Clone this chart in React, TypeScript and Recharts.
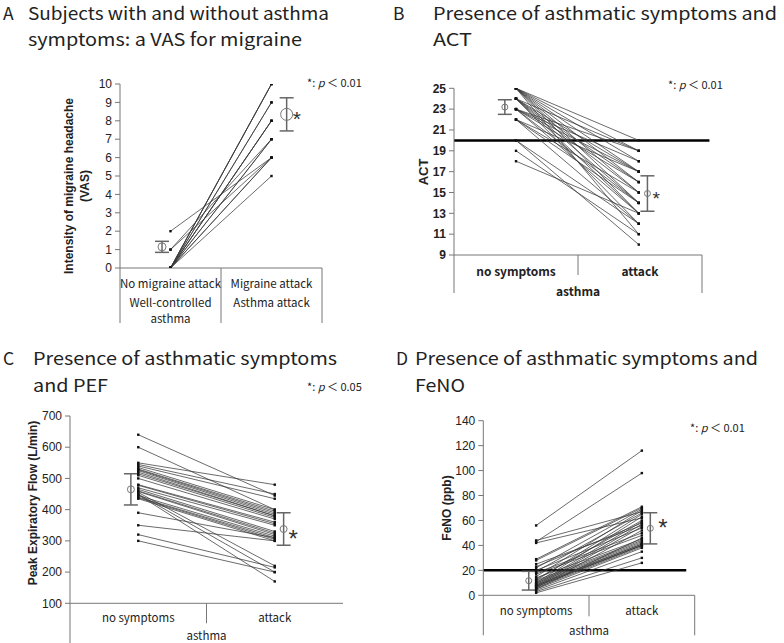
import React from "react";
import {
  ComposedChart,
  Scatter,
  XAxis,
  YAxis,
  ErrorBar,
  ReferenceLine,
} from "recharts";

const W = 784;
const H = 643;
const FONT_JP = '"Noto Sans CJK JP", "Noto Sans", sans-serif';
const FONT_AR = '"Liberation Sans", Arial, sans-serif';

// A: VAS for migraine
const A_ROWS = [
  ["No migraine attack", "Well-controlled", "asthma"],
  ["Migraine attack", "Asthma attack"],
];
const A_TICKS = [0, 1, 2, 3, 4, 5, 6, 7, 8, 9, 10];
const A_BEFORE = [2, 1, 1, 0, 0, 0, 0, 0, 0, 0, 0, 0, 0, 0, 0, 0];
const A_AFTER = [6, 6, 7, 10, 10, 10, 9, 9, 8, 8, 8, 7, 7, 6, 6, 5];
const A_MEAN = [1.15, 8.35];
const A_SD = [0.3, 0.9];

// B: ACT
const B_ROWS = [["no symptoms"], ["attack"]];
const B_GROUP = "asthma";
const B_TICKS = [9, 11, 13, 15, 17, 19, 21, 23, 25];
const B_BEFORE = [25, 25, 25, 25, 25, 25, 25, 25, 24, 24, 24, 24, 24, 24, 23, 23, 23, 23, 23, 22, 22, 22, 22, 20, 20, 19, 18, 23, 24, 25];
const B_AFTER = [20, 19, 17, 16, 15, 14, 13, 11, 19, 17, 16, 15, 13, 12, 18, 17, 16, 14, 13, 17, 15, 14, 12, 12, 10, 11, 13, 19, 14, 18];
const B_MEAN = [23.2, 14.9];
const B_SD = [0.7, 1.7];
const B_CUTOFF = 20;

// C: PEF
const C_ROWS = [["no symptoms"], ["attack"]];
const C_GROUP = "asthma";
const C_TICKS = [100, 200, 300, 400, 500, 600, 700];
const C_BEFORE = [640, 600, 550, 545, 540, 535, 530, 528, 525, 520, 515, 510, 500, 480, 478, 470, 465, 460, 458, 455, 450, 448, 445, 440, 438, 435, 390, 350, 320, 300];
const C_AFTER = [445, 400, 480, 450, 435, 400, 395, 390, 385, 380, 380, 375, 370, 360, 355, 350, 330, 325, 320, 220, 200, 170, 315, 310, 305, 300, 310, 300, 215, 200];
const C_MEAN = [465, 338];
const C_SD = [50, 52];

// D: FeNO
const D_ROWS = [["no symptoms"], ["attack"]];
const D_GROUP = "asthma";
const D_TICKS = [0, 20, 40, 60, 80, 100, 120, 140];
const D_BEFORE = [56, 44, 43, 42, 29, 28, 25, 23, 22, 20, 19, 18, 17, 15, 14, 13, 12, 12, 11, 10, 10, 9, 9, 8, 8, 8, 7, 7, 7, 6, 6, 5, 5, 4, 3, 2];
const D_AFTER = [116, 67, 98, 62, 71, 70, 56, 58, 69, 54, 66, 50, 48, 68, 45, 60, 44, 65, 43, 63, 42, 59, 41, 57, 41, 40, 40, 55, 40, 39, 52, 38, 46, 35, 30, 26];
const D_MEAN = [11.7, 53.7];
const D_SD = [7.5, 12.5];
const D_CUTOFF = 20;

const panels = [
  {
    id: "A",
    before: A_BEFORE, after: A_AFTER, mean: A_MEAN, sd: A_SD,
    ticks: A_TICKS, domain: [0, 10],
    plot: { left: 120, right: 322, top: 84, bottom: 268 },
    ptX: [0.5, 1.5], meanX: [0.416, 1.65], meanR: [4, 6],
    star: { dx: 6, dy: 12, size: 21 },
    bold: false,
    table: { rows: A_ROWS, group: "", rowDy: [15, 34, 50], groupDy: 0, border: [55, 55, 55], bold: false, size: 11.5 },
  },
  {
    id: "B",
    before: B_BEFORE, after: B_AFTER, mean: B_MEAN, sd: B_SD,
    ticks: B_TICKS, domain: [9, 25],
    plot: { left: 454, right: 702, top: 88.3, bottom: 255 },
    ptX: [0.5, 1.49], meanX: [0.41, 1.56], meanR: [3, 3],
    star: { dx: 5, dy: 11, size: 19 },
    bold: true,
    cutoff: B_CUTOFF, cutEnd: 2.06,
    table: { rows: B_ROWS, group: B_GROUP, rowDy: [15], groupDy: 35, border: [38, 20, 38], bold: true, size: 12 },
  },
  {
    id: "C",
    before: C_BEFORE, after: C_AFTER, mean: C_MEAN, sd: C_SD,
    ticks: C_TICKS, domain: [100, 700],
    plot: { left: 70, right: 343, top: 416, bottom: 603.3 },
    ptX: [0.5, 1.5], meanX: [0.446, 1.565], meanR: [3.5, 3.5],
    star: { dx: 5, dy: 18, size: 24 },
    bold: false,
    table: { rows: C_ROWS, group: C_GROUP, rowDy: [14], groupDy: 32, border: [40, 20, 0], bold: false, size: 11.5 },
  },
  {
    id: "D",
    before: D_BEFORE, after: D_AFTER, mean: D_MEAN, sd: D_SD,
    ticks: D_TICKS, domain: [0, 140],
    plot: { left: 483.3, right: 694.7, top: 420.7, bottom: 595.3 },
    ptX: [0.5, 1.5], meanX: [0.43, 1.58], meanR: [3, 3],
    star: { dx: 8, dy: 8, size: 24 },
    bold: false,
    cutoff: D_CUTOFF, cutEnd: 1.92,
    table: { rows: D_ROWS, group: D_GROUP, rowDy: [15], groupDy: 35, border: [40, 21, 40], bold: false, size: 11.5 },
  },
];

const AXIS = "#777";

function TableTick(props: any) {
  const { x, y, payload, cfg } = props;
  const v = payload.value;
  const weight = cfg.bold ? "bold" : "normal";
  if (v === 0 || v === 1 || v === 2) {
    const len = cfg.border[v];
    return (
      <g>
        {len > 0 && <line x1={x} y1={y} x2={x} y2={y + len} stroke={AXIS} strokeWidth={1} />}
        {v === 1 && cfg.group && (
          <text x={x} y={y + cfg.groupDy} textAnchor="middle" dominantBaseline="central"
            fontFamily={FONT_JP} fontSize={cfg.size} fontWeight={weight} fill="#222">
            {cfg.group}
          </text>
        )}
      </g>
    );
  }
  const rows: string[] = cfg.rows[v < 1 ? 0 : 1];
  return (
    <g>
      {rows.map((r, i) => (
        <text key={i} x={x} y={y + cfg.rowDy[i]} textAnchor="middle" dominantBaseline="central"
          fontFamily={FONT_JP} fontSize={cfg.size} fontWeight={weight} fill="#222">
          {r}
        </text>
      ))}
    </g>
  );
}

const SubjectDot = (p: any) => (
  <rect x={p.cx - 1.2} y={p.cy - 1.2} width={2.4} height={2.4} fill="#111" />
);

function Panel({ cfg }: { cfg: any }) {
  const { plot } = cfg;
  const yAxisW = 40;
  const xAxisH = 30;
  const margin = {
    left: plot.left - yAxisW,
    right: W - plot.right,
    top: plot.top,
    bottom: H - plot.bottom - xAxisH,
  };
  const meanShape = (side: number) => (p: any) => (
    <g>
      <circle cx={p.cx} cy={p.cy} r={cfg.meanR[side]} fill="none" stroke="#777" strokeWidth={1} />
      {side === 1 && (
        <text x={p.cx + cfg.star.dx} y={p.cy + cfg.star.dy} fontFamily={FONT_AR}
          fontSize={cfg.star.size} fill="#333">*</text>
      )}
    </g>
  );
  return (
    <div style={{ position: "absolute", left: 0, top: 0 }}>
      <ComposedChart width={W} height={H} margin={margin}>
        <XAxis type="number" dataKey="x" domain={[0, 2]} ticks={[0, 0.5, 1, 1.5, 2]}
          interval={0} height={xAxisH} tickSize={0} tickMargin={0} tickLine={false}
          axisLine={{ stroke: AXIS }} allowDataOverflow
          tick={(p: any) => <TableTick {...p} cfg={cfg.table} />} />
        <YAxis type="number" dataKey="y" domain={cfg.domain} ticks={cfg.ticks} interval={0}
          width={yAxisW} tickSize={5} tickMargin={3} allowDataOverflow
          axisLine={{ stroke: AXIS }} tickLine={{ stroke: AXIS }}
          tick={{ fill: "#222", fontSize: 12, fontFamily: FONT_AR, fontWeight: cfg.bold ? "bold" : "normal" }} />
        {cfg.cutoff !== undefined && (
          <ReferenceLine segment={[{ x: 0, y: cfg.cutoff }, { x: cfg.cutEnd, y: cfg.cutoff }]}
            ifOverflow="visible" stroke="#000" strokeWidth={2.5} />
        )}
        {cfg.before.map((b: number, i: number) => (
          <Scatter key={i} isAnimationActive={false}
            data={[{ x: cfg.ptX[0], y: b }, { x: cfg.ptX[1], y: cfg.after[i] }]}
            line={{ stroke: "#3a3a3a", strokeWidth: 0.75 }} lineType="joint" shape={SubjectDot} />
        ))}
        {[0, 1].map((side) => (
          <Scatter key={"m" + side} isAnimationActive={false}
            data={[{ x: cfg.meanX[side], y: cfg.mean[side], e: cfg.sd[side] }]}
            shape={meanShape(side)}>
            <ErrorBar dataKey="e" direction="y" width={7} stroke="#666" strokeWidth={1.5} />
          </Scatter>
        ))}
      </ComposedChart>
    </div>
  );
}

function PNote({ x, y, p }: { x: number; y: number; p: string }) {
  return (
    <text x={x} y={y} fontFamily={FONT_JP} fontSize={11} fill="#222">
      *: <tspan fontStyle="italic">p</tspan> ＜ {p}
    </text>
  );
}

function Title({ x, y, w, children }: { x: number; y: number; w?: number; children: string }) {
  return (
    <text x={x} y={y} fontFamily={FONT_JP} fontSize={17.5} fill="#222"
      textLength={w} lengthAdjust={w ? "spacingAndGlyphs" : undefined}>
      {children}
    </text>
  );
}

export default function App() {
  const ylab = { fontFamily: FONT_AR, fontSize: 12, fontWeight: "bold" as const, fill: "#222", textAnchor: "middle" as const };
  return (
    <div style={{ position: "fixed", left: 0, top: 0, width: W, height: H, background: "#fff" }}>
      {panels.map((p) => (
        <Panel key={p.id} cfg={p} />
      ))}
      <svg width={W} height={H} style={{ position: "absolute", left: 0, top: 0 }}>
        <Title x={3} y={19.5}>A</Title>
        <Title x={28} y={19.5} w={301}>Subjects with and without asthma</Title>
        <Title x={28} y={45.5} w={274}>symptoms: a VAS for migraine</Title>
        <Title x={393} y={20}>B</Title>
        <Title x={433} y={20} w={344}>Presence of asthmatic symptoms and</Title>
        <Title x={433} y={46} w={39}>ACT</Title>
        <Title x={3} y={365}>C</Title>
        <Title x={33} y={365} w={304}>Presence of asthmatic symptoms</Title>
        <Title x={33} y={392} w={75}>and PEF</Title>
        <Title x={396} y={365}>D</Title>
        <Title x={415} y={365} w={343}>Presence of asthmatic symptoms and</Title>
        <Title x={415} y={392} w={50}>FeNO</Title>

        <text transform="translate(73,186) rotate(-90)" {...ylab}>Intensity of migraine headache</text>
        <text transform="translate(89,186) rotate(-90)" {...ylab}>(VAS)</text>
        <text transform="translate(428,172) rotate(-90)" {...ylab} fontSize={13}>ACT</text>
        <text transform="translate(37,503) rotate(-90)" {...ylab}>Peak Expiratory Flow  (L/min)</text>
        <text transform="translate(451,508) rotate(-90)" {...ylab}>FeNO (ppb)</text>

        <PNote x={307} y={87} p="0.01" />
        <PNote x={668} y={89} p="0.01" />
        <PNote x={307} y={391} p="0.05" />
        <PNote x={690} y={432} p="0.01" />
      </svg>
    </div>
  );
}
